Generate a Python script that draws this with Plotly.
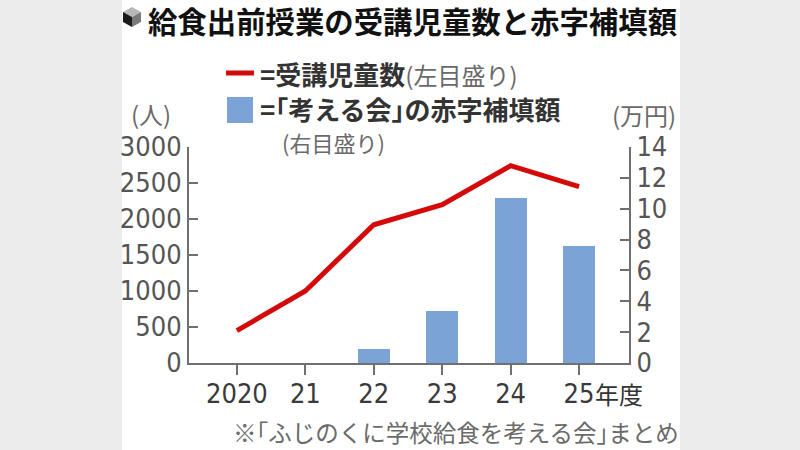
import plotly.graph_objects as go

# ---- data ----
years = ["2020", "21", "22", "23", "24", "25"]
children = [450, 1000, 1920, 2200, 2740, 2450]          # 受講児童数 (人, left axis)
deficit = [None, None, 0.9, 3.4, 10.7, 7.6]              # 赤字補填額 (万円, right axis)
left_ticks = [0, 500, 1000, 1500, 2000, 2500, 3000]
right_ticks = [0, 2, 4, 6, 8, 10, 12, 14]

title_text = "給食出前授業の受講児童数と赤字補填額"
footnote_text = "※｢ふじのくに学校給食を考える会｣まとめ"

# ---- geometry helpers (pixels -> paper) ----
W, H = 800, 450
L, R, T, B = 189, 629, 147, 363


def px(x):
    return (x - L) / (R - L)


def py(y):
    return (B - y) / (B - T)


CJK = "Noto Sans CJK JP"
NUM = "DejaVu Sans Condensed, DejaVu Sans"
RED = "#d40a0a"
BLUE = "#7ba3d6"
AX = "#707070"

xi = list(range(len(years)))

fig = go.Figure()
fig.add_trace(go.Bar(x=xi, y=deficit, yaxis="y", width=0.47,
                     marker=dict(color=BLUE, line=dict(width=0)),
                     hoverinfo="skip", showlegend=False))
fig.add_trace(go.Scatter(x=xi, y=children, yaxis="y2", mode="lines",
                         line=dict(color=RED, width=5),
                         hoverinfo="skip", showlegend=False))

shapes = []
# white central panel
shapes.append(dict(type="rect", xref="paper", yref="paper", layer="below",
                   x0=px(122), x1=px(680), y0=py(H), y1=py(0),
                   fillcolor="white", line=dict(width=0)))
# legend glyphs
shapes.append(dict(type="line", xref="paper", yref="paper",
                   x0=px(226), x1=px(254), y0=py(73), y1=py(73),
                   line=dict(color=RED, width=5)))
shapes.append(dict(type="rect", xref="paper", yref="paper",
                   x0=px(227), x1=px(253), y0=py(123), y1=py(97),
                   fillcolor=BLUE, line=dict(width=0)))


# cube icon
def path(pts):
    return "M " + " L ".join(f"{px(a)},{py(b)}" for a, b in pts) + " Z"


cx, cy = 132, 17
top = (cx, cy - 10); ur = (cx + 9, cy - 5); lr = (cx + 9, cy + 5)
bot = (cx, cy + 10); ll = (cx - 9, cy + 5); ul = (cx - 9, cy - 5); c = (cx, cy)
shapes.append(dict(type="path", xref="paper", yref="paper", path=path([top, ur, c, ul]),
                   fillcolor="#b8b8b8", line=dict(width=0)))
shapes.append(dict(type="path", xref="paper", yref="paper", path=path([ul, c, bot, ll]),
                   fillcolor="#1a1a1a", line=dict(width=0)))
shapes.append(dict(type="path", xref="paper", yref="paper", path=path([c, ur, lr, bot]),
                   fillcolor="#7a7a7a", line=dict(width=0)))

ann = []
ann.append(dict(text="<b>" + title_text + "</b>", x=px(146), y=py(20), xref="paper", yref="paper",
                xanchor="left", yanchor="middle", showarrow=False,
                font=dict(family=CJK, size=29.4, color="#111111")))
ann.append(dict(text="<b>=受講児童数</b><span style='color:#6a6a6a;font-size:24px'>(左目盛り)</span>",
                x=px(258), y=py(73), xref="paper", yref="paper",
                xanchor="left", yanchor="middle", showarrow=False,
                font=dict(family=CJK, size=26, color="#333333")))
ann.append(dict(text="<b>=｢考える会｣の赤字補填額</b>",
                x=px(258), y=py(108), xref="paper", yref="paper",
                xanchor="left", yanchor="middle", showarrow=False,
                font=dict(family=CJK, size=26, color="#333333")))
ann.append(dict(text="(右目盛り)",
                x=px(280), y=py(142), xref="paper", yref="paper",
                xanchor="left", yanchor="middle", showarrow=False,
                font=dict(family=CJK, size=22, color="#6a6a6a")))
ann.append(dict(text="(人)", x=px(151), y=py(113), xref="paper", yref="paper",
                xanchor="center", yanchor="middle", showarrow=False,
                font=dict(family=CJK, size=24, color="#6a6a6a")))
ann.append(dict(text="(万円)", x=px(644), y=py(114), xref="paper", yref="paper",
                xanchor="center", yanchor="middle", showarrow=False,
                font=dict(family=CJK, size=24, color="#6a6a6a")))
ann.append(dict(text="年度", x=5, xref="x", y=py(393), yref="paper", xshift=14,
                xanchor="left", yanchor="middle", showarrow=False,
                font=dict(family=CJK, size=24, color="#333333")))
ann.append(dict(text=footnote_text, x=px(681), y=py(432), xref="paper", yref="paper",
                xanchor="right", yanchor="middle", showarrow=False,
                font=dict(family=CJK, size=23.5, color="#6a6a6a")))

fig.update_layout(
    width=W, height=H, autosize=False,
    margin=dict(l=L, r=W - R, t=T, b=H - B, pad=0),
    paper_bgcolor="#ececec", plot_bgcolor="rgba(0,0,0,0)",
    shapes=shapes, annotations=ann, bargap=0,
    xaxis=dict(range=[-0.7, 5.73], tickvals=xi, ticktext=years,
               ticks="outside", ticklen=10, tickwidth=2, tickcolor=AX,
               showline=True, linecolor=AX, linewidth=2, ticklabelstandoff=-4,
               showgrid=False, zeroline=False, fixedrange=True,
               tickfont=dict(family=NUM, size=27, color="#3a3a3a")),
    yaxis=dict(side="right", range=[0, 14], tickvals=right_ticks,
               ticks="inside", ticklen=9, tickwidth=2, tickcolor=AX,
               showline=True, linecolor=AX, linewidth=2,
               showgrid=False, zeroline=False, fixedrange=True,
               tickfont=dict(family=NUM, size=27, color="#555555")),
    yaxis2=dict(side="left", overlaying="y", range=[0, 3000], tickvals=left_ticks,
                ticks="inside", ticklen=9, tickwidth=2, tickcolor=AX,
                showline=True, linecolor=AX, linewidth=2,
                showgrid=False, zeroline=False, fixedrange=True,
                tickfont=dict(family=NUM, size=27, color="#555555")),
)

fig.write_html("out.html", config=dict(displayModeBar=False),
               post_script="document.body.style.margin='0px';document.body.style.background='#ececec';")
